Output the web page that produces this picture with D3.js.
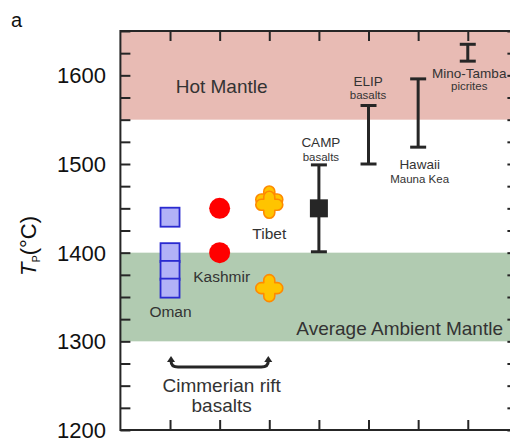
<!DOCTYPE html>
<html>
<head>
<meta charset="utf-8">
<script src="https://cdn.jsdelivr.net/npm/d3@7"></script>
<style>
  html, body { margin: 0; padding: 0; background: #fff; }
  svg { display: block; font-family: "Liberation Sans", Arial, sans-serif; }
</style>
</head>
<body>
<svg id="chart" width="510" height="439"></svg>
<script>
// Mantle potential temperature estimates (°C)
const yTickValues = [1200, 1300, 1400, 1500, 1600];
const xTickPositions = [1, 2, 3, 4, 5, 6, 7];

// Reference bands
const bandNames = ["Hot Mantle", "Average Ambient Mantle"];
const bandLow = [1550, 1300];
const bandHigh = [1650, 1400];

// Cimmerian rift basalts: individual estimates
const omanTp = [1440, 1400, 1380, 1360];
const kashmirTp = [1450, 1400];
const tibetTp = [1460, 1454, 1360];

// Comparison provinces: ranges
const rangeNames = ["CAMP", "ELIP", "Hawaii", "Mino-Tamba"];
const rangeSub = ["basalts", "basalts", "Mauna Kea", "picrites"];
const rangeX = [4, 5, 6, 7];
const rangeLow = [1401, 1500, 1519, 1616];
const rangeHigh = [1499, 1566, 1596, 1635];
const campMean = 1450;

const svg = d3.select("#chart");
const plotLeft = 120.4, plotRight = 517.4, plotTop = 31, plotBottom = 430;

const x = d3.scaleLinear().domain([0, 8]).range([plotLeft, plotRight]);
const y = d3.scaleLinear().domain([1200, 1650]).range([plotBottom, plotTop]);

const ink = "#262626";
const textInk = "#333333";

// bands
const bandColors = ["#e8bbb4", "#b1cbb1"];
bandNames.forEach((n, i) => {
  svg.append("rect")
    .attr("x", plotLeft).attr("width", plotRight - plotLeft)
    .attr("y", y(bandHigh[i])).attr("height", y(bandLow[i]) - y(bandHigh[i]))
    .attr("fill", bandColors[i]);
});

svg.append("text").attr("x", x(2.04)).attr("y", y(1579.7))
  .attr("text-anchor", "middle").attr("font-size", 19).attr("fill", textInk)
  .text(bandNames[0]);
svg.append("text").attr("x", 503).attr("y", y(1307.3))
  .attr("text-anchor", "end").attr("font-size", 19).attr("fill", textInk)
  .text(bandNames[1]);

// axes: ticks point inward on all four sides
const minorTicks = d3.range(1200, 1651, 25);
const yLeft = d3.axisRight(y).tickValues(minorTicks).tickSize(10).tickFormat("");
const yRight = d3.axisLeft(y).tickValues(minorTicks).tickSize(10).tickFormat("");
const xTop = d3.axisBottom(x).tickValues(xTickPositions).tickSize(10).tickFormat("");
const xBottom = d3.axisTop(x).tickValues(xTickPositions).tickSize(10).tickFormat("");

function styleAxis(g) {
  g.select(".domain").remove();
  g.selectAll(".tick line").attr("stroke", ink).attr("stroke-width", 2);
}
svg.append("g").attr("transform", `translate(${plotLeft},0)`).call(yLeft).call(styleAxis);
svg.append("g").attr("transform", `translate(${plotRight},0)`).call(yRight).call(styleAxis);
svg.append("g").attr("transform", `translate(0,${plotTop})`).call(xTop).call(styleAxis);
svg.append("g").attr("transform", `translate(0,${plotBottom})`).call(xBottom).call(styleAxis);

svg.append("rect").attr("x", plotLeft).attr("y", plotTop)
  .attr("width", plotRight - plotLeft).attr("height", plotBottom - plotTop)
  .attr("fill", "none").attr("stroke", ink).attr("stroke-width", 2);

// y tick labels
svg.selectAll(".ylab").data(yTickValues).enter().append("text")
  .attr("x", 106).attr("y", d => y(d) + 8)
  .attr("text-anchor", "end").attr("font-size", 22).attr("fill", "#111")
  .text(d => d);

// y axis title: T with subscript P
const yt = svg.append("text")
  .attr("transform", `translate(36,246) rotate(-90)`)
  .attr("text-anchor", "middle").attr("font-size", 22).attr("fill", "#111");
yt.append("tspan").attr("font-style", "italic").text("T");
yt.append("tspan").attr("font-size", 11).attr("dy", 4).text("P");
yt.append("tspan").attr("dy", -4).text("(°C)");

// panel letter
svg.append("text").attr("x", 11).attr("y", 27).attr("font-size", 20).attr("fill", "#111").text("a");

// Oman: squares
svg.selectAll(".oman").data(omanTp).enter().append("rect")
  .attr("x", x(1) - 9.5).attr("y", d => y(d) - 9.5)
  .attr("width", 19).attr("height", 19)
  .attr("fill", "#b2b2f7").attr("stroke", "#2a2ad0").attr("stroke-width", 1.8);

// Kashmir: circles
svg.selectAll(".kash").data(kashmirTp).enter().append("circle")
  .attr("cx", x(2)).attr("cy", d => y(d)).attr("r", 10.5)
  .attr("fill", "#ff0000");

// Tibet: rounded crosses
function crossPath(a, L) {
  const e = L - a;
  return `M${-a},${-a} L${-a},${-e} A${a},${a} 0 0 1 ${a},${-e} L${a},${-a} ` +
    `L${e},${-a} A${a},${a} 0 0 1 ${e},${a} L${a},${a} ` +
    `L${a},${e} A${a},${a} 0 0 1 ${-a},${e} L${-a},${a} ` +
    `L${-e},${a} A${a},${a} 0 0 1 ${-e},${-a} Z`;
}
svg.selectAll(".tibet").data(tibetTp).enter().append("path")
  .attr("transform", d => `translate(${x(3)},${y(d)})`)
  .attr("d", crossPath(5.5, 13.5))
  .attr("fill", "#ffc400").attr("stroke", "#ff8a00").attr("stroke-width", 1.6)
  .attr("stroke-linejoin", "round");

// labels for the Cimmerian groups
const groupLabels = [
  { t: "Oman", xv: 1.01, yv: 1327.8 },
  { t: "Kashmir", xv: 2.04, yv: 1367.2 },
  { t: "Tibet", xv: 3.0, yv: 1415.4 }
];
svg.selectAll(".glab").data(groupLabels).enter().append("text")
  .attr("x", d => x(d.xv)).attr("y", d => y(d.yv))
  .attr("text-anchor", "middle").attr("font-size", 15.5).attr("fill", textInk)
  .text(d => d.t);

// range bars
rangeX.forEach((xv, i) => {
  const g = svg.append("g");
  g.append("line").attr("x1", x(xv)).attr("x2", x(xv))
    .attr("y1", y(rangeLow[i])).attr("y2", y(rangeHigh[i]))
    .attr("stroke", ink).attr("stroke-width", 3);
  [rangeLow[i], rangeHigh[i]].forEach(v => {
    g.append("line").attr("x1", x(xv) - 8).attr("x2", x(xv) + 8)
      .attr("y1", y(v)).attr("y2", y(v))
      .attr("stroke", ink).attr("stroke-width", 3);
  });
});
svg.append("rect").attr("x", x(4) - 9).attr("y", y(campMean) - 9)
  .attr("width", 18).attr("height", 18).attr("fill", ink);

// range labels (name + smaller qualifier)
const rangeLabelPos = [
  { xv: 4.04, yv: 1519.7, gap: 14 },
  { xv: 4.99, yv: 1588, gap: 13 },
  { xv: 6.03, yv: 1494.3, gap: 14 },
  { xv: 7.03, yv: 1597.5, gap: 12.5 }
];
rangeNames.forEach((n, i) => {
  const p = rangeLabelPos[i];
  const cx = x(p.xv);
  svg.append("text").attr("x", cx).attr("y", y(p.yv))
    .attr("text-anchor", "middle").attr("font-size", 13.5).attr("fill", textInk).text(n);
  svg.append("text").attr("x", cx).attr("y", y(p.yv) + p.gap)
    .attr("text-anchor", "middle").attr("font-size", 11.5).attr("fill", textInk).text(rangeSub[i]);
});

// Cimmerian rift bracket with upturned arrow ends
const by = y(1271);
const xl = x(1), xr = x(3);
svg.append("path")
  .attr("d", `M${xl + 1},${by - 6} Q${xl + 1},${by} ${xl + 8},${by} L${xr - 8},${by} Q${xr - 1},${by} ${xr - 1},${by - 6}`)
  .attr("fill", "none").attr("stroke", ink).attr("stroke-width", 3);
[xl + 1, xr - 1].forEach(ax => {
  svg.append("path")
    .attr("d", `M${ax - 4},${by - 5} L${ax},${by - 11} L${ax + 4},${by - 5} Z`)
    .attr("fill", ink);
});
svg.append("text").attr("x", x(2.04)).attr("y", y(1242.9))
  .attr("text-anchor", "middle").attr("font-size", 19).attr("fill", textInk).text("Cimmerian rift");
svg.append("text").attr("x", x(2.04)).attr("y", y(1220.3))
  .attr("text-anchor", "middle").attr("font-size", 19).attr("fill", textInk).text("basalts");
</script>
</body>
</html>
